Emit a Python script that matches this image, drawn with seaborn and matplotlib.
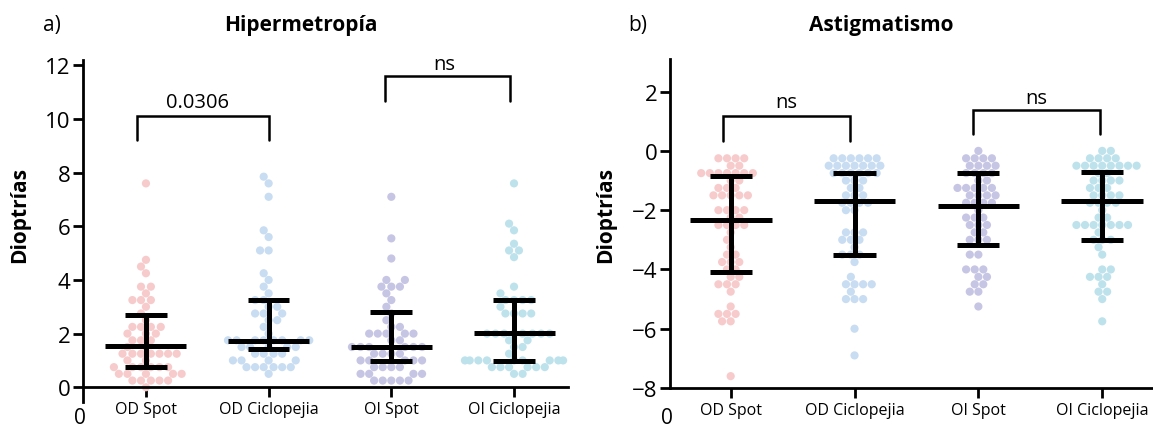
import numpy as np
import pandas as pd
import matplotlib
matplotlib.use('Agg')
import matplotlib.pyplot as plt
import seaborn as sns

sns.set_style('white')
plt.rcParams['font.family'] = ['Open Sans', 'DejaVu Sans']
plt.rcParams['text.color'] = 'black'
plt.rcParams['xtick.color'] = 'black'
plt.rcParams['ytick.color'] = 'black'

# grupos
categorias = ['OD Spot', 'OD Ciclopejia', 'OI Spot', 'OI Ciclopejia']
colores = ['#f7cbcb', '#c8dcf2', '#c6c5e4', '#bee2ec']

# a) Hipermetropia - dioptrias por ojo
hip_od_spot = [7.6, 4.75, 4.5, 4.25, 3.75, 3.75, 3.5, 3.25, 3.25, 3.25, 3.0, 2.75, 2.5,
               2.25, 2.25, 2.25, 2.25, 2.0, 2.0, 2.0, 1.75, 1.75, 1.75, 1.5, 1.5,
               1.25, 1.25, 1.25, 1.25, 1.25, 1.25, 1.25, 1.0, 1.0,
               0.75, 0.75, 0.75, 0.75, 0.75, 0.75, 0.5, 0.5, 0.5, 0.5, 0.5,
               0.25, 0.25, 0.25, 0.25, 0.25, 0.0]
hip_od_ciclo = [7.85, 7.6, 7.1, 5.85, 5.6, 5.1, 5.1, 4.25, 4.0, 3.75, 3.5, 3.25, 3.25,
                3.0, 3.0, 2.75, 2.75, 2.75, 2.5, 2.5, 2.25, 2.0,
                1.75, 1.75, 1.75, 1.75, 1.75, 1.75, 1.75, 1.75,
                1.5, 1.5, 1.5, 1.5, 1.5, 1.25, 1.25, 1.25, 1.25, 1.0, 1.0, 1.0, 1.0,
                0.75, 0.75, 0.75, 0.75, 0.75, 0.75, 0.5]
hip_oi_spot = [7.1, 5.55, 4.8, 4.0, 4.0, 3.75, 3.75, 3.75, 3.5, 3.25, 3.0, 2.75, 2.5,
               2.25, 2.25, 2.0, 2.0, 2.0, 2.0, 2.0, 1.75, 1.75,
               1.5, 1.5, 1.5, 1.5, 1.5, 1.5, 1.25, 1.25, 1.25, 1.25,
               1.0, 1.0, 1.0, 1.0, 1.0, 0.75, 0.75, 0.75, 0.75, 0.5, 0.5, 0.5, 0.5,
               0.25, 0.25, 0.25, 0.25, 0.25]
hip_oi_ciclo = [7.6, 6.1, 5.85, 5.35, 5.1, 5.1, 4.85, 3.75, 3.5, 3.25, 3.25, 3.25, 3.25,
                3.0, 2.75, 2.75, 2.75, 2.75, 2.0, 2.0, 2.0, 2.0, 2.0, 2.0, 2.0, 2.0,
                1.75, 1.75, 1.5, 1.5, 1.25, 1.0, 1.0, 1.0, 1.0, 1.0, 1.0, 1.0, 1.0, 1.0,
                0.75, 0.75, 0.75, 0.75, 0.75, 0.75, 0.5, 0.5]
hip_mediana = [1.55, 1.74, 1.51, 2.01]
hip_q1 = [0.75, 1.43, 0.96, 0.99]
hip_q3 = [2.71, 3.27, 2.82, 3.26]

# b) Astigmatismo
ast_od_spot = [-0.25, -0.25, -0.25, -0.25, -0.5, -0.5,
               -0.75, -0.75, -0.75, -0.75, -0.75, -0.75, -0.75, -1.0, -1.0,
               -1.25, -1.25, -1.25, -1.5, -1.5, -1.5, -1.5, -1.5,
               -2.0, -2.0, -2.0, -2.0, -2.25, -2.25, -2.5, -2.5, -2.5, -2.5,
               -2.75, -3.0, -3.25, -3.5, -3.5, -3.75, -3.75, -3.75, -4.0, -4.0,
               -4.25, -4.25, -4.5, -4.5, -4.5, -4.75, -5.25, -5.5, -5.5, -5.5,
               -5.75, -5.75, -7.6]
ast_od_ciclo = [-0.25, -0.25, -0.25, -0.25, -0.25, -0.25,
                -0.5, -0.5, -0.5, -0.5, -0.5, -0.5, -0.5,
                -0.75, -0.75, -0.75, -0.75, -0.75, -0.75, -1.0, -1.0, -1.0,
                -1.25, -1.25, -1.5, -1.5, -1.5, -1.75, -1.75, -1.75, -1.75,
                -2.0, -2.0, -2.75, -2.75, -2.75, -3.0, -3.0, -3.0, -3.25,
                -3.5, -3.5, -3.5, -3.75, -4.25, -4.5, -4.5, -4.5, -4.5, -4.75,
                -5.0, -5.0, -5.0, -6.0, -6.9]
ast_oi_spot = [0.0, -0.25, -0.25, -0.25, -0.25, -0.5, -0.5, -0.5, -0.5,
               -0.75, -0.75, -0.75, -0.75, -1.0, -1.0,
               -1.25, -1.25, -1.25, -1.25, -1.25, -1.5, -1.5, -1.5, -1.5,
               -1.75, -1.75, -1.75, -1.75, -2.0, -2.25, -2.25, -2.25,
               -2.5, -2.5, -2.5, -2.75, -2.75, -3.0, -3.0, -3.0, -3.5, -3.5,
               -4.0, -4.0, -4.0, -4.25, -4.25, -4.5, -4.5, -4.75, -4.75, -5.25]
ast_oi_ciclo = [0.0, 0.0, -0.25, -0.25, -0.25, -0.25,
                -0.5, -0.5, -0.5, -0.5, -0.5, -0.5, -0.5, -0.5, -0.75, -0.75,
                -1.0, -1.0, -1.0, -1.0, -1.25, -1.25, -1.25,
                -1.5, -1.5, -1.5, -1.5, -1.75, -1.75, -1.75, -1.75, -2.0,
                -2.25, -2.25, -2.5, -2.5, -2.5, -2.5, -2.5, -2.5, -2.5,
                -2.75, -3.0, -3.0, -3.0, -3.25, -3.5, -4.0, -4.0,
                -4.25, -4.25, -4.25, -4.5, -4.75, -4.75, -5.0, -5.75]
ast_mediana = [-2.33, -1.69, -1.86, -1.70]
ast_q1 = [-4.09, -3.52, -3.19, -3.02]
ast_q3 = [-0.84, -0.73, -0.73, -0.71]

W, H = 1153, 431
fig = plt.figure(figsize=(W / 100, H / 100), dpi=100)


def panel(ax, grupos, mediana, q1, q3):
    df = pd.DataFrame({
        'grupo': np.repeat(categorias, [len(g) for g in grupos]),
        'valor': np.concatenate(grupos),
    })
    sns.swarmplot(data=df, x='grupo', y='valor', hue='grupo', order=categorias,
                  palette=colores, size=5.9, linewidth=0, legend=False, ax=ax, zorder=1)
    xs = np.arange(len(categorias))
    ax.hlines(mediana, xs - 0.33, xs + 0.33, color='black', lw=3.6, zorder=3)
    ax.hlines(q1, xs - 0.17, xs + 0.17, color='black', lw=3.6, zorder=3)
    ax.hlines(q3, xs - 0.17, xs + 0.17, color='black', lw=3.6, zorder=3)
    ax.vlines(xs, q1, q3, color='black', lw=3.6, zorder=3)
    ax.set_xlabel('')
    ax.set_ylabel('')
    sns.despine(ax=ax)
    for s in ['left', 'bottom']:
        ax.spines[s].set_linewidth(2)
        ax.spines[s].set_color('black')
    ax.tick_params(axis='y', length=7, width=2, labelsize=16, pad=2, left=True)
    ax.tick_params(axis='x', length=7, width=2, labelsize=11.5, pad=3, bottom=True)


def bracket(ax, x0, x1, pata, tope, texto, xt, yt):
    ax.plot([x0, x0, x1, x1], [pata, tope, tope, pata], color='black', lw=1.8,
            solid_joinstyle='miter', clip_on=False, zorder=4)
    ax.text(xt, yt, texto, ha='center', va='baseline', fontsize=14.5)


# panel a
ax1 = fig.add_axes([83 / W, 1 - 403 / H, 485 / W, 342 / H])
panel(ax1, [hip_od_spot, hip_od_ciclo, hip_oi_spot, hip_oi_ciclo], hip_mediana, hip_q1, hip_q3)
ax1.set_ylim(-0.55, 12.2)
ax1.set_yticks([0, 2, 4, 6, 8, 10, 12])
ax1.set_xlim(-0.513, 3.44)
ax1.spines['bottom'].set_position(('data', 0))
bracket(ax1, -0.07, 1.0, 9.2, 10.12, '0.0306', 0.42, 10.45)
bracket(ax1, 1.945, 2.97, 10.67, 11.59, 'ns', 2.43, 11.88)

# panel b
ax2 = fig.add_axes([670 / W, 1 - 389 / H, 483 / W, 329 / H])
panel(ax2, [ast_od_spot, ast_od_ciclo, ast_oi_spot, ast_oi_ciclo], ast_mediana, ast_q1, ast_q3)
ax2.set_ylim(-8, 3.1)
ax2.set_yticks([-8, -6, -4, -2, 0, 2])
ax2.set_xlim(-0.49, 3.41)
bracket(ax2, -0.06, 0.965, 0.34, 1.18, 'ns', 0.45, 1.47)
bracket(ax2, 1.955, 2.985, 0.56, 1.39, 'ns', 2.47, 1.61)

# textos
fig.text(301 / W, 1 - 25 / H, 'Hipermetropía', ha='center', va='center', fontsize=15, fontweight='bold')
fig.text(881 / W, 1 - 25 / H, 'Astigmatismo', ha='center', va='center', fontsize=15, fontweight='bold')
fig.text(52 / W, 1 - 25 / H, 'a)', ha='center', va='center', fontsize=15)
fig.text(638 / W, 1 - 25 / H, 'b)', ha='center', va='center', fontsize=15)
fig.text(20 / W, 1 - 215 / H, 'Dioptrías', ha='center', va='center', rotation=90, fontsize=15, fontweight='bold')
fig.text(606 / W, 1 - 215 / H, 'Dioptrías', ha='center', va='center', rotation=90, fontsize=15, fontweight='bold')
fig.text(80 / W, 1 - 419 / H, '0', ha='center', va='center', fontsize=15)
fig.text(667 / W, 1 - 419 / H, '0', ha='center', va='center', fontsize=15)

fig.savefig('out.png', dpi=100)
